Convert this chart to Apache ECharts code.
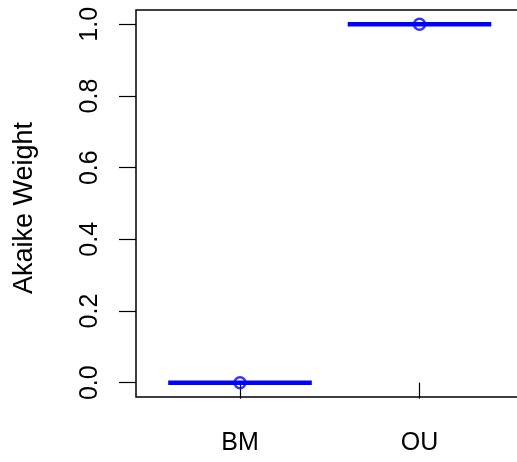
<!DOCTYPE html>
<html>
<head>
<meta charset="utf-8">
<script src="https://cdn.jsdelivr.net/npm/echarts@6/dist/echarts.min.js"></script>
<style>
  html, body { margin: 0; padding: 0; background: #fff; }
  #chart { width: 517px; height: 462px; }
</style>
</head>
<body>
<div id="chart"></div>
<script>
  // models and their Akaike weights
  const categories = ['BM', 'OU']
  const weights = [0, 1]
  const yTicks = [0, 0.2, 0.4, 0.6, 0.8, 1.0]

  const halfWidth = 0.4   // half length of each horizontal segment, in x units
  const blue = '#0000ff'
  const font = 'Liberation Sans, Arial, Helvetica, sans-serif'

  const chart = echarts.init(document.getElementById('chart'))

  // one thick segment per model, centred on its position (1, 2, ...)
  const segSeries = categories.map((name, i) => {
    const x = i + 1
    return {
      name: name,
      type: 'line',
      data: [[x - halfWidth, weights[i]], [x + halfWidth, weights[i]]],
      showSymbol: false,
      silent: true,
      lineStyle: { color: blue, width: 4.5 },
      z: 2
    }
  })

  const pointSeries = {
    type: 'scatter',
    data: categories.map((name, i) => [i + 1, weights[i]]),
    symbol: 'circle',
    symbolSize: 11,
    itemStyle: { color: 'rgba(0,0,0,0)', borderColor: blue, borderWidth: 2.5 },
    z: 3
  }

  const option = {
    animation: false,
    backgroundColor: '#fff',
    grid: {
      left: 136, top: 10, width: 400, height: 387,
      outerBoundsMode: 'none',
      containLabel: false,
      show: true, borderColor: '#000', borderWidth: 1.5,
      backgroundColor: 'transparent'
    },
    xAxis: {
      type: 'value',
      min: 0.4206,
      max: 0.4206 + 400 / 179.5,
      axisLine: { show: false },
      splitLine: { show: false },
      axisTick: {
        show: true, inside: false, length: 16,
        customValues: categories.map((c, i) => i + 1),
        lineStyle: { color: '#000', width: 1.2 }
      },
      axisLabel: {
        customValues: categories.map((c, i) => i + 1),
        formatter: v => categories[Math.round(v) - 1] || '',
        margin: 34, fontSize: 25, color: '#000', fontFamily: font
      }
    },
    yAxis: {
      type: 'value',
      min: -0.04,
      max: 1.04,
      name: 'Akaike Weight',
      nameLocation: 'middle',
      nameRotate: 90,
      nameGap: 98,
      nameTextStyle: { fontSize: 27, color: '#000', fontFamily: font, padding: [0, 9, 0, 0] },
      axisLine: { show: false },
      splitLine: { show: false },
      axisTick: {
        show: true, inside: false, length: 17,
        customValues: yTicks,
        lineStyle: { color: '#000', width: 1.2 }
      },
      axisLabel: {
        customValues: yTicks,
        rotate: 90,
        formatter: v => v.toFixed(1),
        margin: 33, fontSize: 25, color: '#000', fontFamily: font
      }
    },
    series: segSeries.concat([pointSeries])
  }

  chart.setOption(option)
</script>
</body>
</html>
